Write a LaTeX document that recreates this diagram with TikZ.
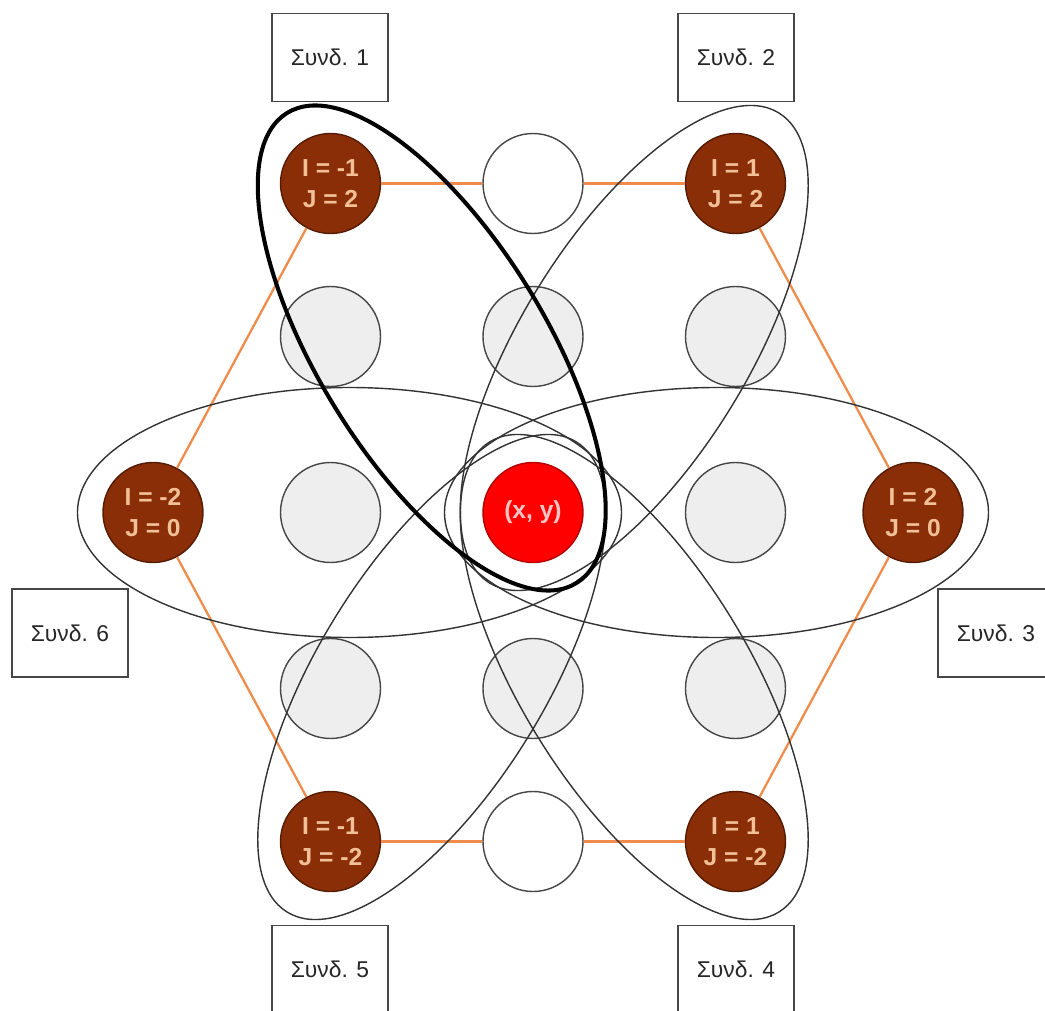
\documentclass[tikz,border=0pt]{standalone}
\usepackage{fontspec}
\setmainfont{Liberation Sans}
\usepackage{xcolor}
\usetikzlibrary{calc}

\definecolor{rust}{RGB}{138,46,8}
\definecolor{rustline}{RGB}{85,28,4}
\definecolor{peach}{RGB}{242,192,150}
\definecolor{linkorange}{RGB}{240,140,75}
\definecolor{cellline}{RGB}{70,70,70}
\definecolor{cellgray}{RGB}{238,238,238}
\definecolor{pinktext}{RGB}{255,196,196}

\begin{document}
\begin{tikzpicture}[
    cell/.style={draw=cellline, circle, minimum size=2cm, inner sep=0pt, line width=0.8pt},
    endcell/.style={cell, fill=rust, draw=rustline, text=peach, align=center,
        font=\fontsize{14}{18}\selectfont\bfseries},
    gridcell/.style={cell, fill=cellgray},
    freecell/.style={cell, fill=white},
    centercell/.style={cell, fill=red, draw=red!70!black, text=pinktext,
        font=\fontsize{14}{18}\selectfont\bfseries},
    tagbox/.style={draw=cellline, rectangle, line width=0.8pt, fill=white,
        minimum width=2.32cm, minimum height=1.76cm, inner sep=0pt,
        font=\fontsize{13}{16}\selectfont, text=black!85},
    link/.style={draw=linkorange, line width=1.3pt},
    group/.style={draw=black!80, line width=0.8pt},
    chosen/.style={draw=black, line width=2.3pt}
]
    \useasboundingbox (-10.66,-9.95) rectangle (10.24,10.25);

    % Define nodes
    \node[centercell] (c) at (0,0) {(x, y)};
    \node[endcell] (b1) at (-4.05,6.58) {I = -1\\J = 2};
    \node[endcell] (b2) at (4.05,6.58) {I = 1\\J = 2};
    \node[endcell] (b3) at (7.6,0) {I = 2\\J = 0};
    \node[endcell] (b4) at (4.05,-6.58) {I = 1\\J = -2};
    \node[endcell] (b5) at (-4.05,-6.58) {I = -1\\J = -2};
    \node[endcell] (b6) at (-7.6,0) {I = -2\\J = 0};
    \node[freecell] (w1) at (0,6.58) {};
    \node[freecell] (w2) at (0,-6.58) {};
    \node[gridcell] (g1) at (-4.05,3.52) {};
    \node[gridcell] (g2) at (0,3.52) {};
    \node[gridcell] (g3) at (4.05,3.52) {};
    \node[gridcell] (g4) at (-4.05,0) {};
    \node[gridcell] (g5) at (4.05,0) {};
    \node[gridcell] (g6) at (-4.05,-3.52) {};
    \node[gridcell] (g7) at (0,-3.52) {};
    \node[gridcell] (g8) at (4.05,-3.52) {};

    \node[tagbox] (s1) at (-4.06,9.1) {Συνδ. 1};
    \node[tagbox] (s2) at (4.06,9.1) {Συνδ. 2};
    \node[tagbox] (s3) at (9.26,-2.41) {Συνδ. 3};
    \node[tagbox] (s4) at (4.06,-9.14) {Συνδ. 4};
    \node[tagbox] (s5) at (-4.06,-9.14) {Συνδ. 5};
    \node[tagbox] (s6) at (-9.26,-2.41) {Συνδ. 6};

    % Define connections
    \draw[link] (b1) -- (w1);
    \draw[link] (w1) -- (b2);
    \draw[link] (b2) -- (b3) -- (b4);
    \draw[link] (b4) -- (w2);
    \draw[link] (w2) -- (b5);
    \draw[link] (b5) -- (b6) -- (b1);

    % Define groups
    \coordinate (e1) at ($(b1)!0.5!(c)$);
    \coordinate (e2) at ($(b2)!0.5!(c)$);
    \coordinate (e3) at (3.67,0);
    \coordinate (e4) at ($(b4)!0.5!(c)$);
    \coordinate (e5) at ($(b5)!0.5!(c)$);
    \coordinate (e6) at (-3.67,0);
    \draw[group] (e2) circle [x radius=5.52, y radius=2.27, rotate=58.4];
    \draw[group] (e4) circle [x radius=5.52, y radius=2.27, rotate=-58.4];
    \draw[group] (e5) circle [x radius=5.52, y radius=2.27, rotate=58.4];
    \draw[group] (e3) circle [x radius=5.44, y radius=2.5];
    \draw[group] (e6) circle [x radius=5.44, y radius=2.5];
    \draw[chosen] (e1) circle [x radius=5.52, y radius=2.27, rotate=-58.4];
\end{tikzpicture}
\end{document}
